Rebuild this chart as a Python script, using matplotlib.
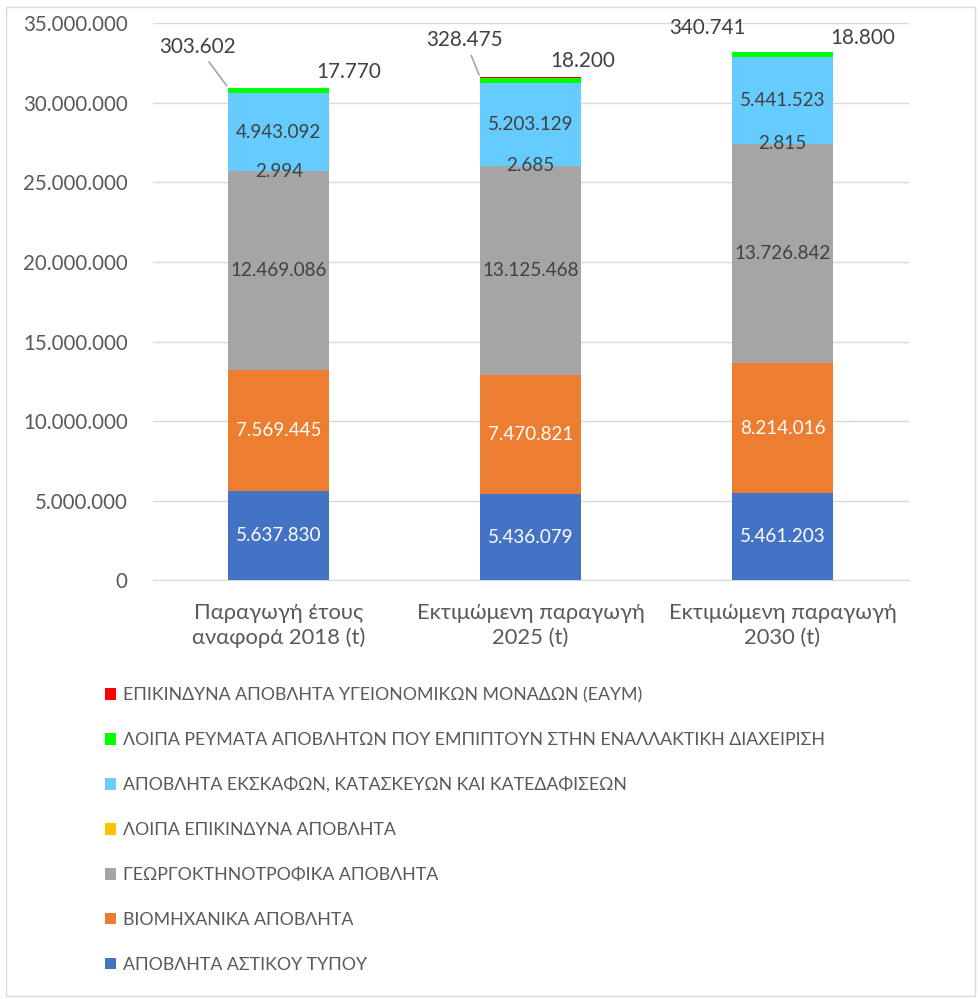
import matplotlib.pyplot as plt
from matplotlib.patches import Rectangle
from matplotlib.ticker import FuncFormatter

plt.rcParams['font.family'] = ['Lato', 'DejaVu Sans']

# categories and series (tonnes)
categories = ['Παραγωγή έτους\nαναφορά 2018 (t)',
              'Εκτιμώμενη παραγωγή\n2025 (t)',
              'Εκτιμώμενη παραγωγή\n2030 (t)']
series_names = ['ΑΠΟΒΛΗΤΑ ΑΣΤΙΚΟΥ ΤΥΠΟΥ',
                'ΒΙΟΜΗΧΑΝΙΚΑ ΑΠΟΒΛΗΤΑ',
                'ΓΕΩΡΓΟΚΤΗΝΟΤΡΟΦΙΚΑ ΑΠΟΒΛΗΤΑ',
                'ΛΟΙΠΑ ΕΠΙΚΙΝΔΥΝΑ ΑΠΟΒΛΗΤΑ',
                'ΑΠΟΒΛΗΤΑ ΕΚΣΚΑΦΩΝ, ΚΑΤΑΣΚΕΥΩΝ ΚΑΙ ΚΑΤΕΔΑΦΙΣΕΩΝ',
                'ΛΟΙΠΑ ΡΕΥΜΑΤΑ ΑΠΟΒΛΗΤΩΝ ΠΟΥ ΕΜΠΙΠΤΟΥΝ ΣΤΗΝ ΕΝΑΛΛΑΚΤΙΚΗ ΔΙΑΧΕΙΡΙΣΗ',
                'ΕΠΙΚΙΝΔΥΝΑ ΑΠΟΒΛΗΤΑ ΥΓΕΙΟΝΟΜΙΚΩΝ ΜΟΝΑΔΩΝ (ΕΑΥΜ)']
astikou = [5637830, 5436079, 5461203]
viomichanika = [7569445, 7470821, 8214016]
georgo = [12469086, 13125468, 13726842]
loipa_epik = [2994, 2685, 2815]
ekskafon = [4943092, 5203129, 5441523]
loipa_revmata = [303602, 328475, 340741]
eaym = [17770, 18200, 18800]
series = [astikou, viomichanika, georgo, loipa_epik, ekskafon, loipa_revmata, eaym]

colors = ['#4472C4', '#ED7D31', '#A5A5A5', '#FFC000', '#66CCFF', '#00FF00', '#FF0000']
label_colors = ['white', 'white', '#404040', '#404040', '#404040', None, None]

def fmt(v):
    return f'{int(v):,}'.replace(',', '.')

fig = plt.figure(figsize=(9.79, 9.99), dpi=100)
ax = fig.add_axes([0.156, 0.419, 0.772, 0.558])

x = list(range(len(categories)))
width = 0.4
bottom = [0] * len(categories)
bars = []
for name, vals, col, lc in zip(series_names, series, colors, label_colors):
    b = ax.bar(x, vals, width, bottom=bottom, color=col, label=name, zorder=3)
    bars.append(b)
    if lc is not None:
        for xi, v, b0 in zip(x, vals, bottom):
            ax.text(xi, b0 + v / 2, fmt(v), ha='center', va='center',
                    fontsize=13.6, color=lc, zorder=4)
    bottom = [b0 + v for b0, v in zip(bottom, vals)]

# outside labels for the two thin top segments (offsets in points)
green_offsets = [(-22, 29.5), (-11, 27), (-18, 17)]
green_lines = [True, True, False]
red_offsets = [(14, 11), (1, 11.5), (21.5, 10)]
for i, rect in enumerate(bars[5]):
    top = rect.get_y() + rect.get_height()
    left = rect.get_x()
    right = left + rect.get_width()
    ap = dict(arrowstyle='-', color='#A6A6A6', lw=1.2) if green_lines[i] else None
    ax.annotate(fmt(loipa_revmata[i]), xy=(left, top), xytext=green_offsets[i],
                textcoords='offset points', ha='center', va='center',
                fontsize=14.9, color='#404040', arrowprops=ap, zorder=5)
    top_r = top + eaym[i]
    ax.annotate(fmt(eaym[i]), xy=(right, top_r), xytext=red_offsets[i],
                textcoords='offset points', ha='center', va='center',
                fontsize=14.9, color='#404040', zorder=5)

ax.set_xlim(-0.5, 2.5)
ax.set_ylim(0, 35000000)
ax.set_yticks(range(0, 35000001, 5000000))
ax.yaxis.set_major_formatter(FuncFormatter(lambda v, p: fmt(v)))
ax.set_xticks(x)
ax.set_xticklabels(categories, fontsize=15.8, color='#595959', linespacing=1.3)
ax.tick_params(axis='y', labelsize=14.8, colors='#595959', length=0, pad=18)
ax.tick_params(axis='x', length=0, pad=16)
ax.grid(axis='y', color='#D9D9D9', lw=1, zorder=0)
for s in ['left', 'right', 'top']:
    ax.spines[s].set_visible(False)
ax.spines['bottom'].set_color('#D9D9D9')

handles = [b.patches[0] for b in bars][::-1]
fig.legend(handles, series_names[::-1], loc='upper left',
           bbox_to_anchor=(0.091, 0.328), frameon=False, fontsize=12.75,
           handlelength=0.62, handleheight=0.62, handletextpad=0.4,
           labelspacing=1.63, labelcolor='#595959')

fig.patches.append(Rectangle((0.006, 0.003), 0.99, 0.99, transform=fig.transFigure,
                             fill=False, edgecolor='#D9D9D9', lw=1))

fig.savefig('out.png', dpi=100)
